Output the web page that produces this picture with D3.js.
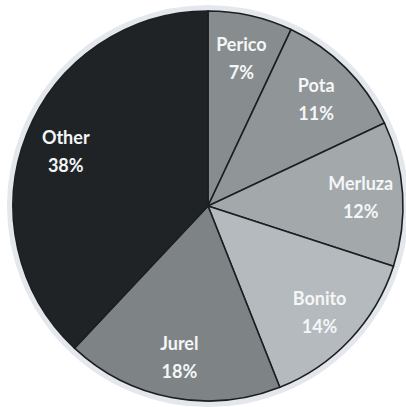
<!DOCTYPE html>
<html>
<head>
<meta charset="utf-8">
<script src="https://cdn.jsdelivr.net/npm/d3@7"></script>
<style>
  body { margin: 0; background: #fff; }
  svg { display: block; }
</style>
</head>
<body>
<div id="grafica"></div>
<script>
// slices clockwise from 12 o'clock
var especies = ["Perico", "Pota", "Merluza", "Bonito", "Jurel", "Other"];
var porcentajes = [7, 11, 12, 14, 18, 38];
var colores = ["#878d8f", "#909597", "#a3a9ab", "#b4babd", "#7e8486", "#1f2326"];

var width = 406, height = 407;
var cx = 208, cy = 206, radio = 195, radioLabel = 153;

var svg = d3.select("#grafica")
            .append("svg")
            .attr("width", width)
            .attr("height", height);

var g = svg.append("g")
           .attr("transform", "translate(" + cx + "," + cy + ")");

var datos = especies.map(function(d, i) {
  return {name: d, value: porcentajes[i], color: colores[i]};
});

var pie = d3.pie()
            .sort(null)
            .value(function(d) { return d.value; });

var arc = d3.arc().innerRadius(0).outerRadius(radio);
var arcLabel = d3.arc().innerRadius(radioLabel).outerRadius(radioLabel);

// soft halo round the disc, like the scanned original
g.append("circle")
  .attr("r", radio + 3)
  .attr("fill", "none")
  .attr("stroke", "#e4e8ec")
  .attr("stroke-width", 6);

g.selectAll("path")
  .data(pie(datos))
  .enter()
  .append("path")
    .attr("d", arc)
    .attr("fill", function(d) { return d.data.color; })
    .attr("stroke", "#1c1f22")
    .attr("stroke-width", 1.6);

var labels = g.selectAll("text")
  .data(pie(datos))
  .enter()
  .append("text")
    .attr("transform", function(d) { return "translate(" + arcLabel.centroid(d) + ")"; })
    .attr("text-anchor", "middle")
    .style("font-family", "Lato, 'Open Sans', sans-serif")
    .style("font-weight", "bold")
    .style("font-size", "18px")
    .attr("fill", "#f4f6f7");

labels.append("tspan")
  .attr("x", 0)
  .attr("y", -6)
  .text(function(d) { return d.data.name; });

labels.append("tspan")
  .attr("x", 0)
  .attr("y", 22)
  .text(function(d) { return d.data.value + "%"; });
</script>
</body>
</html>
